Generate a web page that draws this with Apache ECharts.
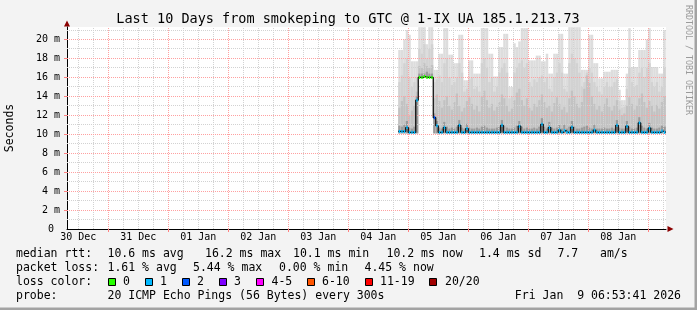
<!DOCTYPE html>
<html><head><meta charset="utf-8">
<script src="https://cdn.jsdelivr.net/npm/echarts@6/dist/echarts.min.js"></script>
<style>html,body{margin:0;padding:0;background:#f3f3f3}#c{width:697px;height:310px}</style>
</head><body><div id="c"></div>
<script>
// ---------------- data ----------------
const titleText = 'Last 10 Days from smokeping to GTC @ 1-IX UA 185.1.213.73';
const yAxisName = 'Seconds';
// x = hours since 30 Dec 00:00
const xMin = 7.5, xMax = 247.1;
const yMin = 0, yMax = 21.32;
const dayTicks = [24, 48, 72, 96, 120, 144, 168, 192, 216, 240];
const sixHourTicks = [12, 18, 30, 36, 42, 54, 60, 66, 78, 84, 90, 102, 108, 114, 126, 132, 138, 150, 156, 162, 174, 180, 186, 198, 204, 210, 222, 228, 234, 246];
const dayLabelPos = [12, 36, 60, 84, 108, 132, 156, 180, 204, 228];
const dayLabels = ['30 Dec', '31 Dec', '01 Jan', '02 Jan', '03 Jan', '04 Jan', '05 Jan', '06 Jan', '07 Jan', '08 Jan'];
const yMajorTicks = [2, 4, 6, 8, 10, 12, 14, 16, 18, 20];
const yMinorTicks = [1, 3, 5, 7, 9, 11, 13, 15, 17, 19, 21];
const yLabelValues = [0, 2, 4, 6, 8, 10, 12, 14, 16, 18, 20];

const sampleStartHour = 140;   // 04 Jan 20:00
const sampleStepHours = 1;

// values in ms
const pingMax = [
  18.9, 18.9, 20.0, 21.0, 20.5, 17.7, 17.7, 17.7, 21.3, 21.3,
  21.3, 19.5, 21.3, 21.3, 16.8, 16.8, 18.5, 18.5, 21.2, 21.2,
  18.4, 18.4, 17.5, 17.5, 20.5, 20.5, 15.7, 15.7, 17.8, 17.8,
  16.4, 16.4, 16.4, 21.2, 21.2, 21.2, 18.5, 18.5, 16.1, 16.1,
  19.2, 19.2, 20.6, 20.6, 15.0, 15.0, 19.6, 19.2, 19.8, 21.2,
  21.2, 21.2, 17.8, 17.8, 17.8, 18.3, 18.3, 17.7, 17.7, 18.5,
  16.4, 16.4, 18.5, 18.5, 20.6, 20.6, 16.4, 16.4, 21.3, 21.3,
  21.3, 21.3, 21.3, 16.8, 16.8, 16.8, 20.5, 20.5, 17.5, 17.5,
  15.9, 15.9, 16.6, 16.6, 16.6, 16.8, 16.8, 16.8, 14.7, 13.6,
  13.6, 16.4, 21.2, 17.1, 17.1, 17.1, 18.9, 18.9, 18.9, 20.0,
  21.2, 17.1, 17.1, 17.1, 16.4, 16.4, 21.0
];
const pingUpper = [
  15.5, 16.2, 17.5, 18.0, 16.0, 15.0, 15.5, 16.0, 19.0, 18.5,
  19.5, 18.0, 19.0, 19.5, 15.5, 15.8, 16.2, 15.5, 17.5, 18.0,
  16.0, 15.2, 15.5, 16.0, 17.5, 16.5, 14.5, 14.8, 15.8, 16.0,
  14.8, 15.0, 14.5, 17.5, 18.0, 17.0, 15.5, 16.0, 14.5, 15.0,
  16.5, 17.0, 17.5, 16.5, 13.8, 14.0, 16.5, 17.0, 17.5, 17.8,
  17.0, 17.5, 15.5, 15.0, 15.8, 15.5, 16.0, 16.2, 15.5, 16.0,
  14.8, 14.5, 16.0, 16.5, 17.5, 16.5, 14.8, 14.5, 17.5, 18.5,
  18.0, 17.5, 16.5, 15.0, 15.5, 16.5, 17.0, 16.5, 15.5, 15.0,
  14.5, 14.2, 15.0, 15.5, 15.0, 15.0, 15.5, 15.8, 13.5, 12.8,
  12.9, 14.8, 17.0, 15.5, 15.0, 15.2, 16.5, 17.0, 16.0, 17.0,
  17.5, 15.5, 15.0, 15.5, 14.5, 15.0, 17.0
];
const pingMid = [
  12.8, 13.5, 14.0, 13.2, 12.0, 12.5, 13.0, 14.5, 17.2, 17.0,
  17.5, 17.2, 17.0, 17.3, 13.8, 14.2, 13.5, 12.8, 13.6, 14.0,
  13.0, 12.6, 13.4, 14.3, 13.0, 12.4, 12.8, 13.5, 13.9, 13.2,
  12.6, 13.0, 12.4, 14.0, 14.6, 13.6, 12.8, 13.2, 12.5, 12.9,
  13.4, 14.2, 13.8, 13.0, 12.4, 12.7, 13.6, 14.4, 14.8, 13.6,
  13.0, 13.8, 12.8, 12.5, 13.2, 12.9, 13.6, 14.2, 13.4, 12.8,
  13.0, 12.4, 13.3, 13.9, 13.2, 12.6, 12.9, 12.3, 13.8, 14.6,
  14.0, 13.2, 12.8, 13.4, 14.8, 16.2, 15.4, 14.0, 13.2, 12.6,
  13.0, 12.4, 13.2, 13.8, 12.9, 12.5, 13.0, 13.6, 12.6, 12.0,
  12.2, 13.0, 13.9, 13.2, 12.6, 13.0, 13.8, 14.3, 13.4, 12.8,
  13.5, 13.0, 12.4, 13.1, 12.7, 13.4, 14.0
];
const pingLow = [
  10.9, 10.8, 11.0, 11.4, 10.7, 10.6, 10.8, 14.0, 16.4, 16.4,
  16.4, 16.6, 16.4, 16.4, 12.2, 11.4, 10.7, 10.6, 11.3, 10.8,
  10.6, 10.7, 10.6, 10.8, 11.5, 10.7, 10.6, 11.1, 10.7, 10.6,
  10.6, 10.7, 10.6, 10.8, 10.9, 10.7, 10.6, 10.6, 10.6, 10.7,
  10.8, 11.5, 10.9, 10.7, 10.6, 10.6, 10.7, 10.9, 11.4, 10.8,
  10.6, 10.7, 10.6, 10.6, 10.7, 10.6, 10.8, 11.7, 10.8, 10.6,
  11.3, 10.7, 10.6, 10.7, 11.0, 10.6, 11.0, 10.6, 10.8, 11.4,
  10.8, 10.6, 10.6, 10.7, 10.8, 10.9, 10.7, 10.6, 11.0, 10.6,
  10.6, 10.6, 10.7, 10.6, 10.6, 10.7, 10.6, 11.5, 10.7, 10.6,
  10.6, 11.4, 10.8, 10.6, 10.6, 10.7, 11.8, 10.9, 10.7, 10.6,
  11.2, 10.7, 10.6, 10.6, 10.7, 10.9, 10.8
];
const pingMin = [
  10.1, 10.1, 10.1, 10.1, 10.1, 10.1, 10.1, 10.1, 16.0, 16.0,
  16.0, 16.0, 16.0, 16.0, 10.1, 10.1, 10.1, 10.1, 10.1, 10.1,
  10.1, 10.1, 10.1, 10.1, 10.1, 10.1, 10.1, 10.1, 10.1, 10.1,
  10.1, 10.1, 10.1, 10.1, 10.1, 10.1, 10.1, 10.1, 10.1, 10.1,
  10.1, 10.1, 10.1, 10.1, 10.1, 10.1, 10.1, 10.1, 10.1, 10.1,
  10.1, 10.1, 10.1, 10.1, 10.1, 10.1, 10.1, 10.1, 10.1, 10.1,
  10.1, 10.1, 10.1, 10.1, 10.1, 10.1, 10.1, 10.1, 10.1, 10.1,
  10.1, 10.1, 10.1, 10.1, 10.1, 10.1, 10.1, 10.1, 10.1, 10.1,
  10.1, 10.1, 10.1, 10.1, 10.1, 10.1, 10.1, 10.1, 10.1, 10.1,
  10.1, 10.1, 10.1, 10.1, 10.1, 10.1, 10.1, 10.1, 10.1, 10.1,
  10.1, 10.1, 10.1, 10.1, 10.1, 10.1, 10.1
];
const median = [
  10.3, 10.3, 10.3, 10.7, 10.2, 10.2, 10.2, 13.6, 16.0, 16.0,
  16.1, 16.0, 16.0, 16.0, 11.75, 10.9, 10.2, 10.2, 10.7, 10.2,
  10.2, 10.2, 10.2, 10.2, 10.95, 10.2, 10.2, 10.6, 10.2, 10.2,
  10.2, 10.2, 10.2, 10.2, 10.2, 10.2, 10.2, 10.2, 10.2, 10.2,
  10.2, 10.95, 10.2, 10.2, 10.2, 10.2, 10.2, 10.2, 10.85, 10.2,
  10.2, 10.2, 10.2, 10.2, 10.2, 10.2, 10.2, 11.05, 10.2, 10.2,
  10.7, 10.2, 10.2, 10.2, 10.45, 10.2, 10.4, 10.2, 10.2, 10.75,
  10.2, 10.2, 10.2, 10.2, 10.2, 10.2, 10.2, 10.2, 10.45, 10.2,
  10.2, 10.2, 10.2, 10.2, 10.2, 10.2, 10.2, 10.95, 10.2, 10.2,
  10.2, 10.85, 10.2, 10.2, 10.2, 10.2, 11.2, 10.2, 10.2, 10.2,
  10.65, 10.2, 10.2, 10.2, 10.2, 10.35, 10.2
];
// lost pings out of 20
const loss = [
  1, 1, 1, 1, 1, 1, 1, 1, 0, 0,
  0, 0, 0, 0, 2, 1, 1, 1, 1, 1,
  1, 1, 1, 1, 1, 1, 1, 1, 1, 1,
  1, 1, 1, 1, 1, 1, 1, 1, 1, 1,
  1, 1, 1, 1, 1, 1, 1, 1, 1, 1,
  1, 1, 1, 1, 1, 1, 1, 1, 1, 1,
  1, 1, 1, 1, 1, 1, 1, 1, 1, 1,
  1, 1, 1, 1, 1, 1, 1, 1, 1, 1,
  1, 1, 1, 1, 1, 1, 1, 1, 1, 1,
  1, 1, 1, 1, 1, 1, 1, 1, 1, 1,
  1, 1, 1, 1, 1, 1, 1
];
const lossBinLow = [0, 1, 2, 3, 4, 6, 11, 20];
const lossBinLabels = ['0', '1', '2', '3', '4-5', '6-10', '11-19', '20/20'];
const lossBinColors = ['#26ff00', '#00b8ff', '#0059ff', '#7e00ff', '#ff00ff', '#ff5500', '#ff0000', '#a10000'];

const statsRtt = [['median rtt:', 16], ['10.6 ms avg', 107.5], ['16.2 ms max', 205], ['10.1 ms min', 293], ['10.2 ms now', 386.5], ['1.4 ms sd', 479], ['7.7', 557.5], ['am/s', 600]];
const statsLoss = [['packet loss:', 16], ['1.61 % avg', 107.5], ['5.44 % max', 193], ['0.00 % min', 279], ['4.45 % now', 364.5]];
const probeText = '20 ICMP Echo Pings (56 Bytes) every 300s';
const dateText = 'Fri Jan  9 06:53:41 2026';

// ---------------- chart ----------------
const MONO = '"DejaVu Sans Mono", monospace';
function lossColor(n) {
  let c = lossBinColors[0];
  for (let k = 0; k < lossBinLow.length; k++) if (n >= lossBinLow[k]) c = lossBinColors[k];
  return c;
}
const smokeData = pingMax.map((v, i) => [sampleStartHour + i * sampleStepHours, v, pingUpper[i], pingMid[i], pingLow[i], pingMin[i]]);
const medData = median.map((v, i) => [sampleStartHour + i * sampleStepHours, v, loss[i]]);
const medLine = median.map((v, i) => [sampleStartHour + i * sampleStepHours, v]);
medLine.push([sampleStartHour + median.length * sampleStepHours, median[median.length - 1]]);

const chart = echarts.init(document.getElementById('c'), null, {renderer: 'canvas'});
const graphic = [];
graphic.push({type: 'text', x: 348, y: 19, style: {text: titleText, font: '13.5px ' + MONO, fill: '#000', textAlign: 'center', textVerticalAlign: 'middle', align: 'center', verticalAlign: 'middle'}});
graphic.push({type: 'text', x: 10, y: 128, rotation: Math.PI / 2, style: {text: yAxisName, font: '11.5px ' + MONO, fill: '#000', textAlign: 'center', textVerticalAlign: 'middle', align: 'center', verticalAlign: 'middle'}});
graphic.push({type: 'text', x: 688, y: 60, rotation: -Math.PI / 2, style: {text: 'RRDTOOL / TOBI OETIKER', font: '8.3px ' + MONO, fill: '#9a9a9a', textAlign: 'center', textVerticalAlign: 'middle', align: 'center', verticalAlign: 'middle'}});
function addText(t, x, y) {
  graphic.push({type: 'text', x: x, y: y, style: {text: t, font: '11.5px ' + MONO, fill: '#000', textAlign: 'left', textVerticalAlign: 'middle', align: 'left', verticalAlign: 'middle'}});
}
statsRtt.forEach(s => addText(s[0], s[1], 254));
statsLoss.forEach(s => addText(s[0], s[1], 268));
addText('loss color:', 16, 282);
const boxX = [108.5, 145.5, 182.5, 219.5, 256.5, 307.5, 365.5, 429.5];
const boxLabelX = [123, 160, 197, 234, 271.5, 322, 380, 445];
lossBinLabels.forEach((l, k) => {
  graphic.push({type: 'rect', shape: {x: boxX[k], y: 278.5, width: 7, height: 7}, style: {fill: lossBinColors[k], stroke: '#000', lineWidth: 1}});
  addText(l, boxLabelX[k], 282);
});
addText('probe:', 16, 296);
addText(probeText, 107.5, 296);
graphic.push({type: 'text', x: 681, y: 296, style: {text: dateText, font: '11.5px ' + MONO, fill: '#000', textAlign: 'right', textVerticalAlign: 'middle', align: 'right', verticalAlign: 'middle'}});
// axis arrows
graphic.push({type: 'polygon', shape: {points: [[64, 26.5], [70, 26.5], [67, 20.5]]}, style: {fill: '#8b0000'}});
graphic.push({type: 'polygon', shape: {points: [[667.5, 226], [667.5, 232], [673.5, 229]]}, style: {fill: '#8b0000'}});
// frame
graphic.push({type: 'rect', shape: {x: 0, y: 307.5, width: 697, height: 2.5}, style: {fill: '#a3a3a3'}});
graphic.push({type: 'rect', shape: {x: 694.5, y: 0, width: 2.5, height: 310}, style: {fill: '#a3a3a3'}});

const redGrid = '#ffa0a0';
const greyGrid = '#d2d2d2';
function crisp(v) { return Math.floor(v) + 0.5; }
function vGrid(color) {
  return (params, api) => {
    const x = crisp(api.coord([api.value(0), yMin])[0]);
    const yb = api.coord([api.value(0), yMin])[1], yt = api.coord([api.value(0), yMax])[1];
    return {type: 'line', shape: {x1: x, y1: yb, x2: x, y2: yt}, style: {stroke: color, lineWidth: 1, lineDash: [1, 1]}};
  };
}
function hGrid(color) {
  return (params, api) => {
    const y = crisp(api.coord([xMin, api.value(1)])[1]);
    const xl = api.coord([xMin, api.value(1)])[0], xr = api.coord([xMax, api.value(1)])[0];
    return {type: 'line', shape: {x1: xl, y1: y, x2: xr, y2: y}, style: {stroke: color, lineWidth: 1, lineDash: [1, 1]}};
  };
}

const option = {
  animation: false,
  backgroundColor: '#f3f3f3',
  grid: {left: 67, top: 27, width: 599, height: 202, show: true, backgroundColor: '#ffffff', borderWidth: 0},
  xAxis: [
    {type: 'value', min: xMin, max: xMax, position: 'bottom',
     axisLine: {show: true, lineStyle: {color: '#000', width: 1}},
     axisTick: {show: true, customValues: dayTicks, length: 3, lineStyle: {color: '#ff8080'}},
     axisLabel: {show: true, customValues: dayLabelPos, margin: 3, fontFamily: 'DejaVu Sans Mono', fontSize: 10, color: '#000',
                 formatter: v => { const k = dayLabelPos.indexOf(v); return k >= 0 ? dayLabels[k] : ''; }},
     splitLine: {show: false}}
  ],
  yAxis: [
    {type: 'value', min: yMin, max: yMax, position: 'left',
     axisLine: {show: true, lineStyle: {color: '#000', width: 1}},
     axisTick: {show: true, customValues: yMajorTicks, length: 3, lineStyle: {color: '#ff8080'}},
     axisLabel: {show: true, customValues: yLabelValues, margin: 7, fontFamily: 'DejaVu Sans Mono', fontSize: 10, color: '#000',
                 formatter: v => v === 0 ? '0 ' : v + ' m'},
     splitLine: {show: false}}
  ],
  series: [
    {type: 'custom', name: 'smoke', data: smokeData, clip: true, z: 2,
     renderItem: (params, api) => {
       const h = api.value(0);
       const x0 = api.coord([h, 0])[0], x1 = api.coord([h + sampleStepHours, 0])[0];
       const yb = api.coord([h, api.value(5)])[1];
       const children = [];
       [[1, '#dddddd'], [2, '#d2d2d2'], [3, '#c2c2c2'], [4, '#9a9a9a']].forEach(([k, c]) => {
         const yt = api.coord([h, api.value(k)])[1];
         if (yt < yb) children.push({type: 'rect', shape: {x: x0, y: yt, width: x1 - x0, height: yb - yt}, style: {fill: c}});
       });
       return {type: 'group', children: children};
     }},
    {type: 'custom', name: 'gridMinorX', data: sixHourTicks.map(v => [v, 0]), z: 3, silent: true, renderItem: vGrid(greyGrid)},
    {type: 'custom', name: 'gridMinorY', data: yMinorTicks.map(v => [xMin, v]), z: 3, silent: true, renderItem: hGrid(greyGrid)},
    {type: 'custom', name: 'gridMajorX', data: dayTicks.map(v => [v, 0]), z: 3, silent: true, renderItem: vGrid(redGrid)},
    {type: 'custom', name: 'gridMajorY', data: yMajorTicks.map(v => [xMin, v]), z: 3, silent: true, renderItem: hGrid(redGrid)},
    {type: 'line', name: 'median', data: medLine, step: 'end', symbol: 'none', z: 4,
     lineStyle: {color: '#000', width: 1.2}},
    {type: 'custom', name: 'loss', data: medData, clip: true, z: 5,
     renderItem: (params, api) => {
       const h = api.value(0);
       const p0 = api.coord([h, api.value(1)]);
       const x1 = api.coord([h + sampleStepHours, api.value(1)])[0];
       return {type: 'rect', shape: {x: p0[0] + 0.5, y: p0[1] - 1.5, width: x1 - p0[0] - 1, height: 3}, style: {fill: lossColor(api.value(2))}};
     }}
  ],
  graphic: graphic
};
chart.setOption(option);
</script>
</body></html>
